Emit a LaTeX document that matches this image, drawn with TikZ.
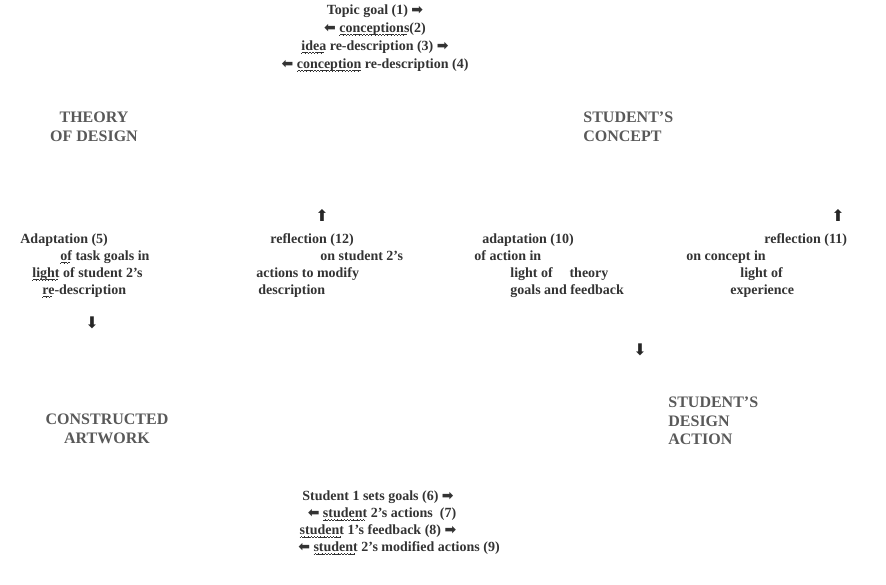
\documentclass[tikz,border=0pt]{standalone}
\usepackage{fontspec}
\setmainfont{Liberation Serif}
\newfontfamily\arrowfont{DejaVu Sans}
\newcommand{\arrR}{{\arrowfont ➡}}
\newcommand{\arrL}{{\arrowfont ⬅}}
% wavy underline
\newsavebox{\sqbox}
\newcommand{\squig}[1]{\leavevmode\sbox{\sqbox}{#1}\rlap{\hbox to\wd\sqbox{\leaders\hbox{\rule[-3.4pt]{0.8pt}{0.7pt}\rule[-2.8pt]{0.8pt}{0.7pt}\rule[-2.2pt]{0.8pt}{0.7pt}\rule[-2.8pt]{0.8pt}{0.7pt}}\hfill}}\usebox{\sqbox}}

\tikzset{every picture/.style={line width=0.75pt}}

\begin{document}
\begin{tikzpicture}[x=1pt,y=-1pt,
	txt/.style={inner sep=0pt,align=left,anchor=west,text=black!80,
		font=\bfseries\fontsize{14}{17}\selectfont},
	head/.style={inner sep=0pt,text=black!65,
		font=\bfseries\fontsize{16}{18.5}\selectfont},
	arr/.style={inner sep=0pt,text=black!85,font=\arrowfont\fontsize{16}{16}\selectfont}]
	\useasboundingbox (0,0) rectangle (886,585);
	%Chu de
	\node[txt,align=center,anchor=center,font=\bfseries\fontsize{14}{18}\selectfont] (topic) at (375,38)
		{Topic goal (1) \arrR\\ \arrL\ \squig{conceptions}(2)\\ \squig{idea} re-description (3) \arrR\\ \arrL\ \squig{conception} re-description (4)};
	%Tieu de
	\node[head,align=center] (theory) at (94,127) {THEORY\\OF DESIGN};
	\node[head,align=left,anchor=west] (concept) at (583,127) {STUDENT'S\\CONCEPT};
	\node[head,align=center] (artwork) at (107,429) {CONSTRUCTED\\ARTWORK};
	\node[head,align=left,anchor=west] (action) at (668,421) {STUDENT'S\\DESIGN\\ACTION};
	%Mui ten
	\node[arr] (upL) at (322,215) {⬆};
	\node[arr] (upR) at (838,215) {⬆};
	\node[arr] (downL) at (92,323) {⬇};
	\node[arr] (downR) at (640,350) {⬇};
	%Khoi chu
	\node[txt] (adapt5) at (20,265.5)
		{Adaptation (5)\\ \hspace*{40pt}\squig{of} task goals in\\ \hspace*{12pt}\squig{light} of student 2's\\ \hspace*{22pt}\squig{re}-description};
	\node[txt] (refl12) at (256,265.5)
		{\hspace*{14pt}reflection (12)\\ \hspace*{64pt}on student 2's\\ actions to modify\\ \hspace*{2pt}description};
	\node[txt] (adapt10) at (474,265.5)
		{\hspace*{8pt}adaptation (10)\\ of action in\\ \hspace*{36pt}light of\hspace{1.2em}theory\\ \hspace*{36pt}goals and feedback};
	\node[txt] (refl11) at (686,265.5)
		{\hspace*{78pt}reflection (11)\\ on concept in\\ \hspace*{54pt}light of\\ \hspace*{44pt}experience};
	%Hoc sinh
	\node[txt,align=center,anchor=center] (goals) at (378,523)
		{Student 1 sets goals (6) \arrR\\ \hspace*{8pt}\arrL\ \squig{student} 2's actions\ \ (7)\\ \squig{student} 1's feedback (8) \arrR\\ \hspace*{42pt}\arrL\ \squig{student} 2's modified actions (9)};
\end{tikzpicture}
\end{document}
